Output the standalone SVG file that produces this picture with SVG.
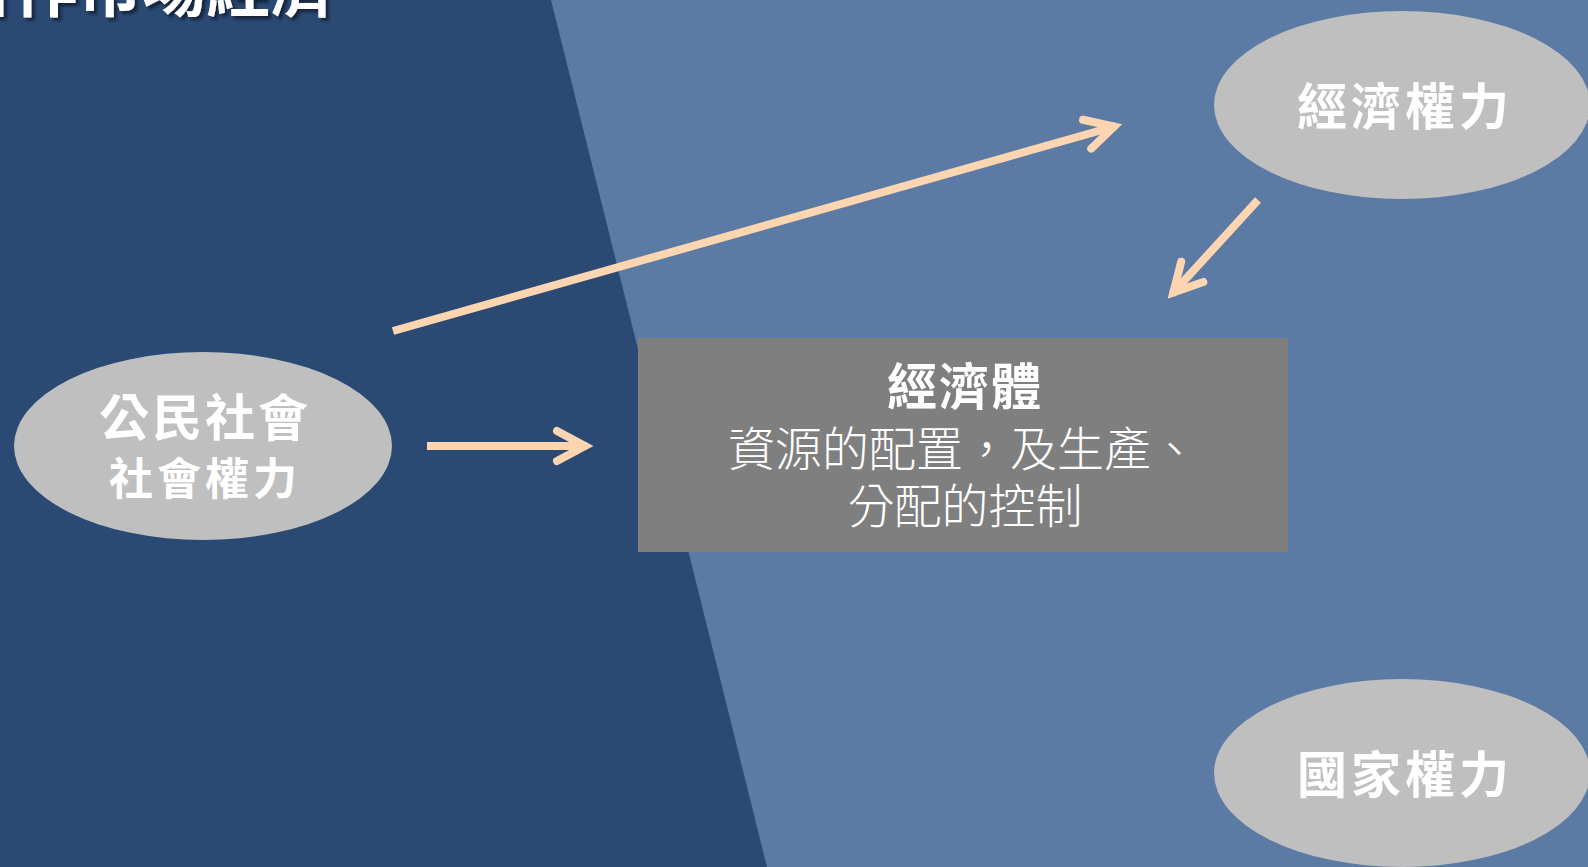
<svg xmlns="http://www.w3.org/2000/svg" width="1588" height="867" viewBox="0 0 1588 867">
<defs>
<style>
.t{font-family:"Noto Sans CJK TC","Noto Sans CJK SC",sans-serif;fill:#ffffff;text-anchor:middle}
.b{font-weight:bold}
.l{font-weight:300}
.ell{fill:#bfbfbf}
.conn{stroke:#fdd5b1;stroke-width:8;fill:none}
</style>
<marker id="chev" markerUnits="userSpaceOnUse" orient="auto" refX="0" refY="0" markerWidth="80" markerHeight="80" viewBox="-40 -40 80 80" overflow="visible">
<path d="M-30,-15 L-2,0 L-30,15" fill="none" stroke="#fdd5b1" stroke-width="8" stroke-linecap="round" stroke-linejoin="miter"/>
</marker>
<filter id="sh" x="-10%" y="-50%" width="120%" height="200%">
<feDropShadow dx="3" dy="3" stdDeviation="1.5" flood-color="#0e1a2b" flood-opacity="0.8"/>
</filter>
</defs>
<rect x="0" y="0" width="1588" height="867" fill="#2a4a73"/>
<polygon points="551,0 1588,0 1588,867 767,867" fill="#5b7ba4"/>
<text class="t b" x="142" y="11" font-size="64" filter="url(#sh)">合作市場經濟</text>
<g id="connectors">
<line class="conn" x1="427" y1="446" x2="587" y2="446" marker-end="url(#chev)"/>
<line class="conn" x1="393" y1="331" x2="1116" y2="126" marker-end="url(#chev)"/>
<line class="conn" x1="1258" y1="200" x2="1172" y2="294" marker-end="url(#chev)"/>
</g>
<g id="civil">
<ellipse class="ell" cx="203" cy="446" rx="189" ry="94"/>
<text class="t b" x="205" y="436" font-size="50" letter-spacing="3">公民社會</text>
<text class="t b" x="205" y="495" font-size="44" letter-spacing="4">社會權力</text>
</g>
<g id="economic-power">
<ellipse class="ell" cx="1402" cy="105" rx="188" ry="94"/>
<text class="t b" x="1405" y="125" font-size="50" letter-spacing="4">經濟權力</text>
</g>
<g id="state-power">
<ellipse class="ell" cx="1402" cy="773" rx="188" ry="94"/>
<text class="t b" x="1405" y="793" font-size="50" letter-spacing="4">國家權力</text>
</g>
<g id="economy">
<rect x="638" y="338" width="650" height="214" fill="#7f7f7f"/>
<text class="t b" x="965" y="405" font-size="50" letter-spacing="2">經濟體</text>
<text class="t l" x="963" y="466" font-size="47">資源的配置，及生產、</text>
<text class="t l" x="965" y="523" font-size="47">分配的控制</text>
</g>
</svg>
